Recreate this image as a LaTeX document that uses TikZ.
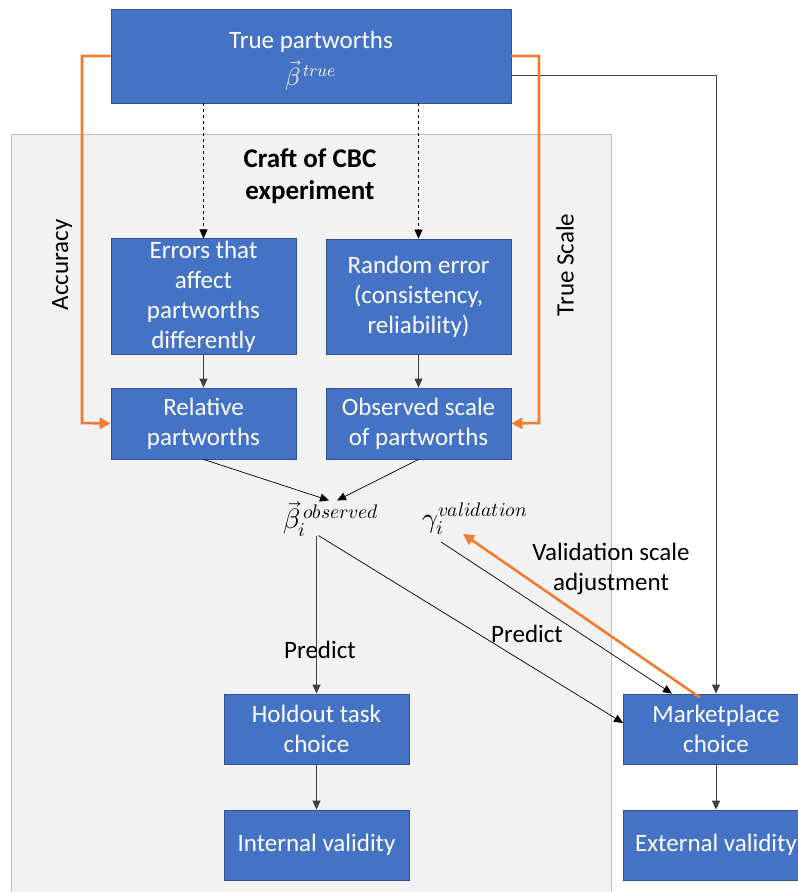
\documentclass[tikz,border=0pt]{standalone}
\usepackage{amsmath}
\usepackage{fontspec}
\usepackage{unicode-math}
\setmainfont{Carlito}
\setmathfont{Latin Modern Math}
\usetikzlibrary{arrows.meta, positioning}
\definecolor{boxblue}{HTML}{4472C4}
\definecolor{boxline}{HTML}{2F528F}
\definecolor{panelgray}{HTML}{F2F2F2}
\definecolor{panelline}{HTML}{BFBFBF}
\definecolor{accorange}{HTML}{ED7D31}
\definecolor{darkline}{HTML}{404040}
\tikzset{>={Triangle[length=9pt,width=8pt]}}
\tikzset{
  blockbox/.style={draw=boxline, fill=boxblue, text=white, align=center,
    minimum width=185pt, minimum height=71pt, inner sep=2pt, line width=0.8pt},
  flowline/.style={black, line width=0.7pt},
  downline/.style={darkline, line width=1pt},
  orangeline/.style={accorange, line width=2.6pt},
}
\begin{document}
\begin{tikzpicture}[x=1pt, y=-1pt, font=\fontsize{25}{30}\selectfont]
  \useasboundingbox (0,0) rectangle (798,892);
  \clip (0,0) rectangle (798,892);
  % grey panel of the experiment
  \draw[fill=panelgray, draw=panelline, line width=1pt] (11,134) rectangle (611,910);
  \node[font=\fontsize{27}{32}\selectfont\bfseries, align=center] (craft) at (310,176) {Craft of CBC\\experiment};

  % boxes
  \node[blockbox, minimum width=400pt, minimum height=94pt] (true) at (311,56)
    {\rule{0pt}{26pt}True partworths\\[7pt]$\vec{\beta}^{\,true}$};
  \node[blockbox, minimum height=115pt] (errs) at (203.5,296.5)
    {Errors that\\affect\\partworths\\differently};
  \node[blockbox, minimum height=115pt] (rand) at (418.5,296.5)
    {Random error\\(consistency,\\reliability)};
  \node[blockbox] (rel) at (203.5,423.5) {Relative\\partworths};
  \node[blockbox] (obs) at (418.5,423.5) {Observed scale\\of partworths};
  \node[blockbox, minimum height=70pt] (hold) at (316.5,729) {Holdout task\\choice};
  \node[blockbox, minimum height=70pt] (intv) at (316.5,845) {Internal validity};
  \node[blockbox, minimum height=70pt] (mkt) at (716,729) {Marketplace\\choice};
  \node[blockbox, minimum height=70pt] (extv) at (716,845) {External validity};

  % math labels
  \node[font=\fontsize{28}{32}\selectfont, inner sep=1pt] (bobs) at (331,519) {$\vec{\beta}_i^{\,observed}$};
  \node[font=\fontsize{28}{32}\selectfont, inner sep=1pt] (gval) at (475,519) {$\gamma_i^{validation}$};

  % side labels
  \node[rotate=90] (acc) at (62,265) {Accuracy};
  \node[rotate=90] (tsc) at (565,265) {True Scale};
  \node[align=center] (vsa) at (611,569) {Validation scale\\adjustment};

  % connectors
  \draw[flowline, dashed, ->] (errs.north |- true.south) -- (errs.north);
  \draw[flowline, dashed, ->] (rand.north |- true.south) -- (rand.north);
  \draw[downline, ->] (errs) -- (rel);
  \draw[downline, ->] (rand) -- (obs);
  \draw[flowline, ->] (rel.south) -- ([xshift=-2pt]bobs.north);
  \draw[flowline, ->] (obs.south) -- ([xshift=6pt]bobs.north);
  \coordinate (bstart) at ([yshift=2pt]hold.north |- bobs.south);
  \draw[downline, ->] (bstart) -- (hold.north);
  \node (pred1) at (320,650) {Predict};
  \draw[flowline, ->] ([xshift=2pt]bstart) -- ([yshift=6pt]mkt.west);
  \node (pred2) at (527,634) {Predict};
  \draw[flowline, ->] ([xshift=-34pt,yshift=-6pt]gval.south) -- ([xshift=-44pt]mkt.north);
  \draw[downline, ->] ([yshift=-19pt]true.east) -| (mkt.north);
  \draw[downline, ->] (hold) -- (intv);
  \draw[downline, ->] (mkt) -- (extv);

  % orange feedback lines
  \draw[orangeline, ->, >={Triangle[length=11pt,width=11pt]}] ([xshift=-16pt,yshift=-4pt]mkt.north) -- ([xshift=-12pt,yshift=2pt]gval.south);
  \draw[orangeline, ->, >={Triangle[length=11pt,width=11pt]}] (true.west) -| (82,423) -- (rel.west);
  \draw[orangeline, ->, >={Triangle[length=11pt,width=11pt]}] (true.east) -| (539,423) -- (obs.east);
\end{tikzpicture}
\end{document}
